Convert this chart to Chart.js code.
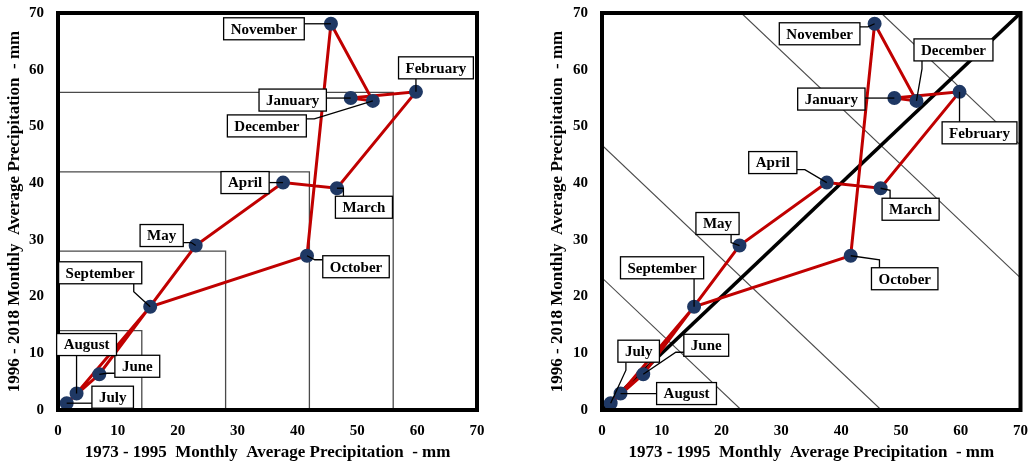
<!DOCTYPE html>
<html>
<head>
<meta charset="utf-8">
<script src="https://cdn.jsdelivr.net/npm/chart.js@4.4.0/dist/chart.umd.min.js"></script>
<style>
html, body { margin: 0; padding: 0; background: #fff; overflow: hidden; }
#wrap { position: relative; width: 1033px; height: 467px; overflow: hidden; }
.panel { position: absolute; top: -10px; height: 477px; }
</style>
</head>
<body>
<div id="wrap">
  <div class="panel" style="left:0;width:500px"><canvas id="leftChart"></canvas></div>
  <div class="panel" style="left:547px;width:493px"><canvas id="rightChart"></canvas></div>
</div>
<script>
// monthly averages (mm)
const months = ['January', 'February', 'March', 'April', 'May', 'June',
                'July', 'August', 'September', 'October', 'November', 'December'];
const precip1973to1995 = [48.9, 59.8, 46.6, 37.6, 23.0, 6.9, 1.45, 3.1, 15.4, 41.6, 45.6, 52.6];
const precip1996to2018 = [55.0, 56.1, 39.1, 40.1, 29.0, 6.3, 1.2, 2.9, 18.2, 27.2, 68.1, 54.5];
const axisTicks = [0, 10, 20, 30, 40, 50, 60, 70];
const squareSides = [14, 28, 42, 56];            // left panel guide boxes
const diagonalSums = [23.3, 46.7, 93.3, 116.7];  // right panel x + y = const lines

const AX_MAX = 70;
const serif = '"Liberation Serif", "Times New Roman", serif';

// callout box offsets from the point (px), one per month
const leftCallouts = [[-58, 2], [20, -24], [27, 19], [-38, 0], [-34, -10], [38, -8],
                      [46, -6], [10, -49], [-50, -34], [49, 11], [-67, 5], [-106, 25]];
const rightCallouts = [[-63, 1], [20, 41], [30, 21], [-54, -20], [-22, -22], [63, -29],
                       [28, -52], [66, 0], [-32, -39], [54, 23], [-55, 10], [37, -51]];

function loopPoints() {
    const pts = months.map((m, i) => ({x: precip1973to1995[i], y: precip1996to2018[i]}));
    pts.push(pts[0]);
    return pts;
}

const frame = {
    id: 'frame',
    afterDatasetsDraw(chart) {
        const a = chart.chartArea, ctx = chart.ctx;
        ctx.save();
        ctx.strokeStyle = '#000';
        ctx.lineWidth = 4;
        ctx.strokeRect(a.left, a.top, a.right - a.left, a.bottom - a.top);
        ctx.restore();
    }
};

const callouts = {
    id: 'callouts',
    afterDraw(chart, args, opts) {
        const ctx = chart.ctx;
        const xs = chart.scales.x, ys = chart.scales.y;
        ctx.save();
        ctx.font = 'bold 15px ' + serif;
        const boxes = months.map((m, i) => {
            const px = xs.getPixelForValue(precip1973to1995[i]);
            const py = ys.getPixelForValue(precip1996to2018[i]);
            const w = ctx.measureText(m).width + 14, h = 22;
            const cx = px + opts.offsets[i][0], cy = py + opts.offsets[i][1];
            return {m, px, py, cx, cy, w, h};
        });
        // leader lines first, boxes on top
        ctx.strokeStyle = '#000';
        ctx.lineWidth = 1.3;
        boxes.forEach(b => {
            const l = b.cx - b.w / 2, r = b.cx + b.w / 2, t = b.cy - b.h / 2, btm = b.cy + b.h / 2;
            const dxn = (b.px - b.cx) / (b.w / 2), dyn = (b.py - b.cy) / (b.h / 2);
            let ax, ay, ex, ey;
            if (Math.abs(dxn) >= Math.abs(dyn)) {
                ax = dxn > 0 ? r : l;
                ay = Math.min(Math.max(b.py, t + 4), btm - 4);
                ex = ax + (dxn > 0 ? 8 : -8); ey = ay;
            } else {
                ay = dyn > 0 ? btm : t;
                ax = Math.min(Math.max(b.px, l + 8), r - 8);
                ex = ax; ey = ay + (dyn > 0 ? 8 : -8);
            }
            ctx.beginPath();
            ctx.moveTo(ax, ay);
            ctx.lineTo(ex, ey);
            ctx.lineTo(b.px, b.py);
            ctx.stroke();
        });
        boxes.forEach(b => {
            ctx.fillStyle = '#fff';
            ctx.fillRect(b.cx - b.w / 2, b.cy - b.h / 2, b.w, b.h);
            ctx.strokeRect(b.cx - b.w / 2, b.cy - b.h / 2, b.w, b.h);
            ctx.fillStyle = '#000';
            ctx.textAlign = 'center';
            ctx.textBaseline = 'middle';
            ctx.fillText(b.m, b.cx, b.cy + 1);
        });
        ctx.restore();
    }
};

function buildOptions(yAxisWidth, titlePad, rightPad, offsets) {
    const tickFont = {family: serif, size: 15, weight: 'bold'};
    const titleFont = {family: serif, size: 17, weight: 'bold'};
    return {
        responsive: true,
        maintainAspectRatio: false,
        animation: false,
        layout: {padding: {top: 0, right: rightPad, left: 0, bottom: 0}},
        plugins: {legend: {display: false}, tooltip: {enabled: false}, callouts: {offsets}},
        scales: {
            x: {
                type: 'linear', min: 0, max: AX_MAX,
                grid: {display: false, drawTicks: false},
                border: {display: false},
                afterBuildTicks: s => { s.ticks = axisTicks.map(v => ({value: v})); },
                ticks: {font: tickFont, color: '#000', padding: 12, maxRotation: 0},
                title: {display: true, text: '1973 - 1995  Monthly  Average Precipitation  - mm',
                        font: titleFont, color: '#000', padding: {top: 0, bottom: 4}},
                afterFit: s => { s.height = 57; }
            },
            y: {
                type: 'linear', min: 0, max: AX_MAX,
                grid: {display: false, drawTicks: false},
                border: {display: false},
                afterBuildTicks: s => { s.ticks = axisTicks.map(v => ({value: v})); },
                ticks: {font: tickFont, color: '#000', padding: 14},
                title: {display: true, text: '1996 - 2018 Monthly  Average Precipitation  - mm',
                        font: titleFont, color: '#000', padding: {top: titlePad, bottom: 0}},
                afterFit: s => { s.width = yAxisWidth; }
            }
        }
    };
}

const redLoop = () => ({
    data: loopPoints(),
    showLine: true,
    borderColor: '#c00000',
    borderWidth: 3,
    pointBackgroundColor: '#1f3864',
    pointBorderColor: '#1f3864',
    pointRadius: months.map(() => 5.5).concat([0]),
    order: 0
});

// left panel: nested squares from the origin
const leftSets = [redLoop()].concat(squareSides.map(s => ({
    data: [{x: 0, y: s}, {x: s, y: s}, {x: s, y: 0}],
    showLine: true, borderColor: '#4a4a4a', borderWidth: 1.3, pointRadius: 0, order: 2
})));

new Chart(document.getElementById('leftChart'), {
    type: 'scatter',
    data: {datasets: leftSets},
    options: buildOptions(58, 4, 23, leftCallouts),
    plugins: [frame, callouts]
});

// right panel: 1:1 line and equal-total diagonals
const rightSets = [redLoop(), {
    data: [{x: 0, y: 0}, {x: AX_MAX, y: AX_MAX}],
    showLine: true, borderColor: '#000', borderWidth: 3.5, pointRadius: 0, order: 1
}].concat(diagonalSums.map(c => ({
    data: [{x: Math.max(0, c - AX_MAX), y: Math.min(c, AX_MAX)},
           {x: Math.min(c, AX_MAX), y: Math.max(0, c - AX_MAX)}],
    showLine: true, borderColor: '#4a4a4a', borderWidth: 1.1, pointRadius: 0, order: 2
})));

new Chart(document.getElementById('rightChart'), {
    type: 'scatter',
    data: {datasets: rightSets},
    options: buildOptions(55, 0, 6, rightCallouts),
    plugins: [frame, callouts]
});
</script>
</body>
</html>
